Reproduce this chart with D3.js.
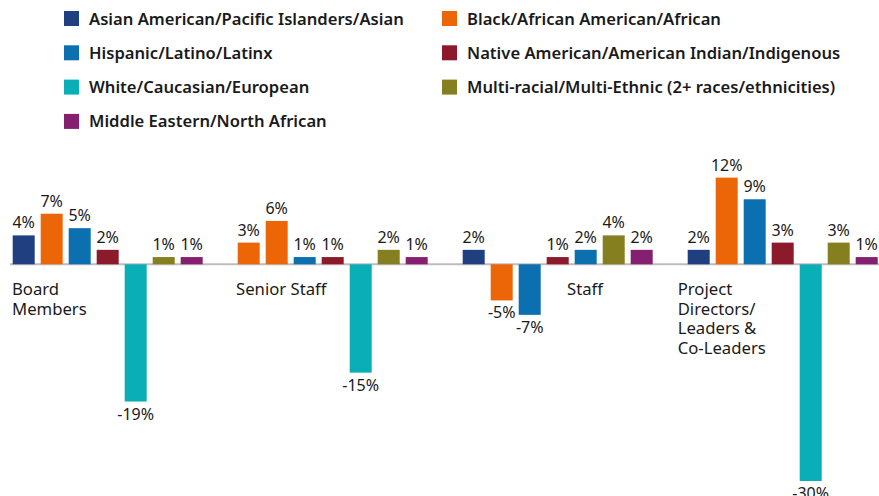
<!DOCTYPE html>
<html>
<head>
<meta charset="utf-8">
<script src="https://cdn.jsdelivr.net/npm/d3@7"></script>
<style>
body{margin:0;background:#fff;}
text{font-family:"Noto Sans",sans-serif;fill:#1a1a1a;}
</style>
</head>
<body>
<div id="chart"></div>
<script>
const width = 879;
const height = 496;

// DATA
const groups = ["Board Members","Senior Staff","Staff","Project Directors/ Leaders & Co-Leaders"];
const groupLines = [["Board","Members"],["Senior Staff"],["Staff"],["Project","Directors/","Leaders &","Co-Leaders"]];
const series = [
"Asian American/Pacific Islanders/Asian",
"Black/African American/African",
"Hispanic/Latino/Latinx",
"Native American/American Indian/Indigenous",
"White/Caucasian/European",
"Multi-racial/Multi-Ethnic (2+ races/ethnicities)",
"Middle Eastern/North African"
];
const asian = [4,3,2,2];
const black = [7,6,-5,12];
const hispanic = [5,1,-7,9];
const native = [2,1,1,3];
const white = [-19,-15,2,-30];
const multi = [1,2,4,3];
const mena = [1,1,2,1];
const seriesValues = [asian,black,hispanic,native,white,multi,mena];

const colors = ["#1f3f80","#ec6608","#0b6fb0","#8c1a2a","#0aaeb6","#857f1f","#84206f"];
// bars coloured differently in the original
const colorOverride = {"Senior Staff|0":1,"Staff|4":2};

const data = [];
groups.forEach((g,gi)=>{
series.forEach((s,si)=>{
data.push({group:g,gi:gi,si:si,value:seriesValues[si][gi]});
});
});

const svg = d3.select("#chart")
.append("svg")
.attr("width",width)
.attr("height",height);

////////////////////////////////////////////////
//// LEGEND
////////////////////////////////////////////////
const legendCols = [{x:64,items:[0,2,4,6]},{x:442,items:[1,3,5]}];
legendCols.forEach(col=>{
col.items.forEach((si,row)=>{
const g = svg.append("g").attr("transform",`translate(${col.x},${11+row*34.3})`);
g.append("rect").attr("width",15).attr("height",15).attr("fill",colors[si]);
g.append("text")
.attr("x",25)
.attr("y",13.5)
.style("font-size","16.6px")
.style("font-weight","600")
.text(series[si]);
});
});

////////////////////////////////////////////////
//// BARS
////////////////////////////////////////////////
const x0 = d3.scaleBand()
.domain(groups)
.range([9.7,880.7])
.paddingInner(29/225);

const x1 = d3.scaleBand()
.domain(d3.range(series.length))
.range([0,x0.bandwidth()])
.paddingInner(6/28)
.paddingOuter(3/28);

const y = d3.scaleLinear()
.domain([-30,12])
.range([481,177.6]);

// baseline
svg.append("line")
.attr("x1",10)
.attr("x2",width)
.attr("y1",y(0))
.attr("y2",y(0))
.attr("stroke","#bdbdbd")
.attr("stroke-width",2);

svg.selectAll("rect.bar")
.data(data)
.enter()
.append("rect")
.attr("class","bar")
.attr("x",d=>x0(d.group)+x1(d.si))
.attr("y",d=>y(Math.max(0,d.value)))
.attr("width",x1.bandwidth())
.attr("height",d=>Math.abs(y(d.value)-y(0)))
.attr("fill",d=>{
const k = d.group+"|"+d.si;
return colors[colorOverride[k]!==undefined?colorOverride[k]:d.si];
});

// VALUE LABELS
svg.selectAll("text.val")
.data(data)
.enter()
.append("text")
.attr("class","val")
.attr("x",d=>x0(d.group)+x1(d.si)+x1.bandwidth()/2)
.attr("y",d=>d.value>=0?y(d.value)-7:y(d.value)+18)
.attr("text-anchor","middle")
.style("font-size","16px")
.text(d=>d.value+"%");

// CATEGORY LABELS
const labelDx = [2.3,1.3,107.3,-7];
groups.forEach((g,gi)=>{
const t = svg.append("text")
.attr("x",x0(g)+labelDx[gi])
.attr("y",295)
.style("font-size","16.7px");
groupLines[gi].forEach((line,li)=>{
t.append("tspan")
.attr("x",x0(g)+labelDx[gi])
.attr("dy",li===0?0:19.7)
.text(line);
});
});
</script>
</body>
</html>
